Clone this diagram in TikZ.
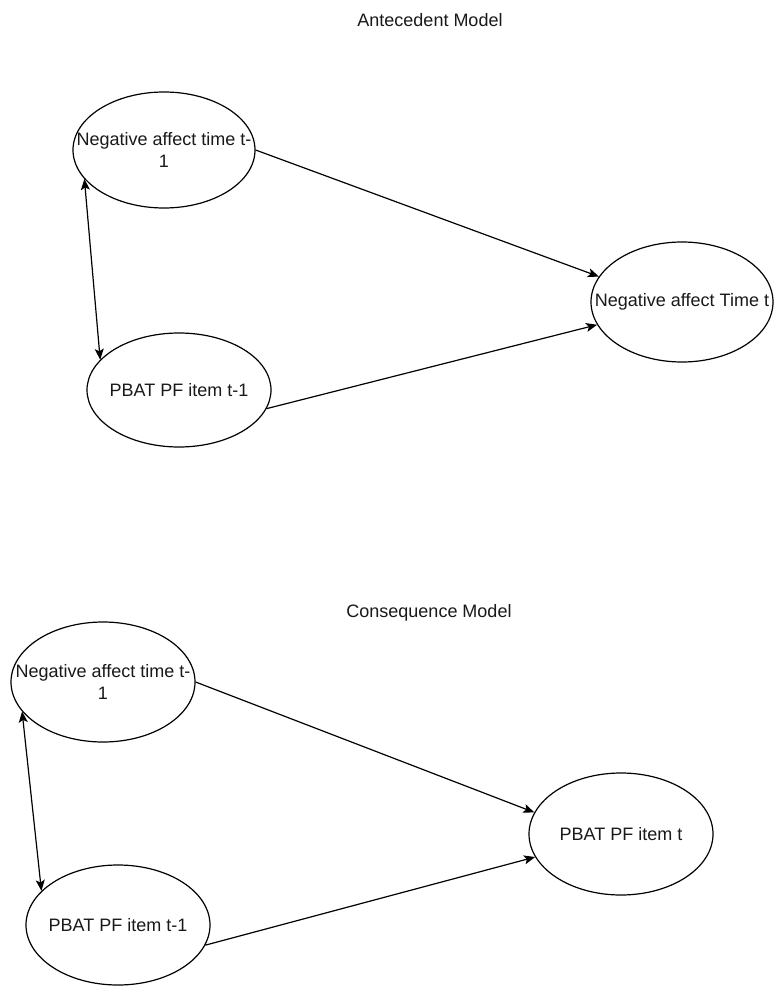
\documentclass[tikz,border=0pt]{standalone}
\usepackage{fontspec}
\setmainfont{Liberation Sans}
\usetikzlibrary{shapes.geometric,arrows.meta}
\begin{document}
\begin{tikzpicture}[x=1pt,y=-1pt,
  ell/.style={draw=black,line width=1.2pt,ellipse,inner sep=0pt,fill=white},
  lbl/.style={font=\fontsize{18}{22}\selectfont,align=center,inner sep=0pt,text=black!90},
  ttl/.style={font=\fontsize{18}{22}\selectfont,inner sep=0pt,text=black!90},
  arr/.style={line width=1.2pt,-{Stealth[length=11pt,width=9pt,inset=2.5pt]}},
  darr/.style={line width=1.2pt,{Stealth[length=11pt,width=9pt,inset=2.5pt]}-{Stealth[length=11pt,width=9pt,inset=2.5pt]}}]
\useasboundingbox[fill=white] (0,0) rectangle (778,987);
% Antecedent model
\node[ttl] (title1) at (430,20) {Antecedent Model};
\node[ell,minimum width=182pt,minimum height=116pt] (e1) at (164,150) {};
\node[ell,minimum width=184pt,minimum height=114pt] (e2) at (179,390) {};
\node[ell,minimum width=182pt,minimum height=120pt] (e3) at (682,302) {};
\node[lbl] (t1) at (e1) {Negative affect time t-\\1};
\node[lbl] (t2) at (e2) {PBAT PF item t-1};
\node[lbl] (t3) at (e3) {Negative affect Time t};
\draw[arr] (e1.east) -- (e3.163);
\draw[arr] (e2.-12) -- (e3.195);
\draw[darr] (e1.200) -- (e2.159);
% Consequence model
\node[ttl] (title2) at (429,613) {Consequence Model};
\node[ell,minimum width=184pt,minimum height=120pt] (e4) at (103,682) {};
\node[ell,minimum width=184pt,minimum height=120pt] (e5) at (118,925) {};
\node[ell,minimum width=184pt,minimum height=122pt] (e6) at (621,834) {};
\node[lbl] (t4) at (e4) {Negative affect time t-\\1};
\node[lbl] (t5) at (e5) {PBAT PF item t-1};
\node[lbl] (t6) at (e6) {PBAT PF item t};
\draw[arr] (e4.east) -- (e6.166);
\draw[arr] (e5.-13) -- (e6.195);
\draw[darr] (e4.200) -- (e5.156);
\end{tikzpicture}
\end{document}
